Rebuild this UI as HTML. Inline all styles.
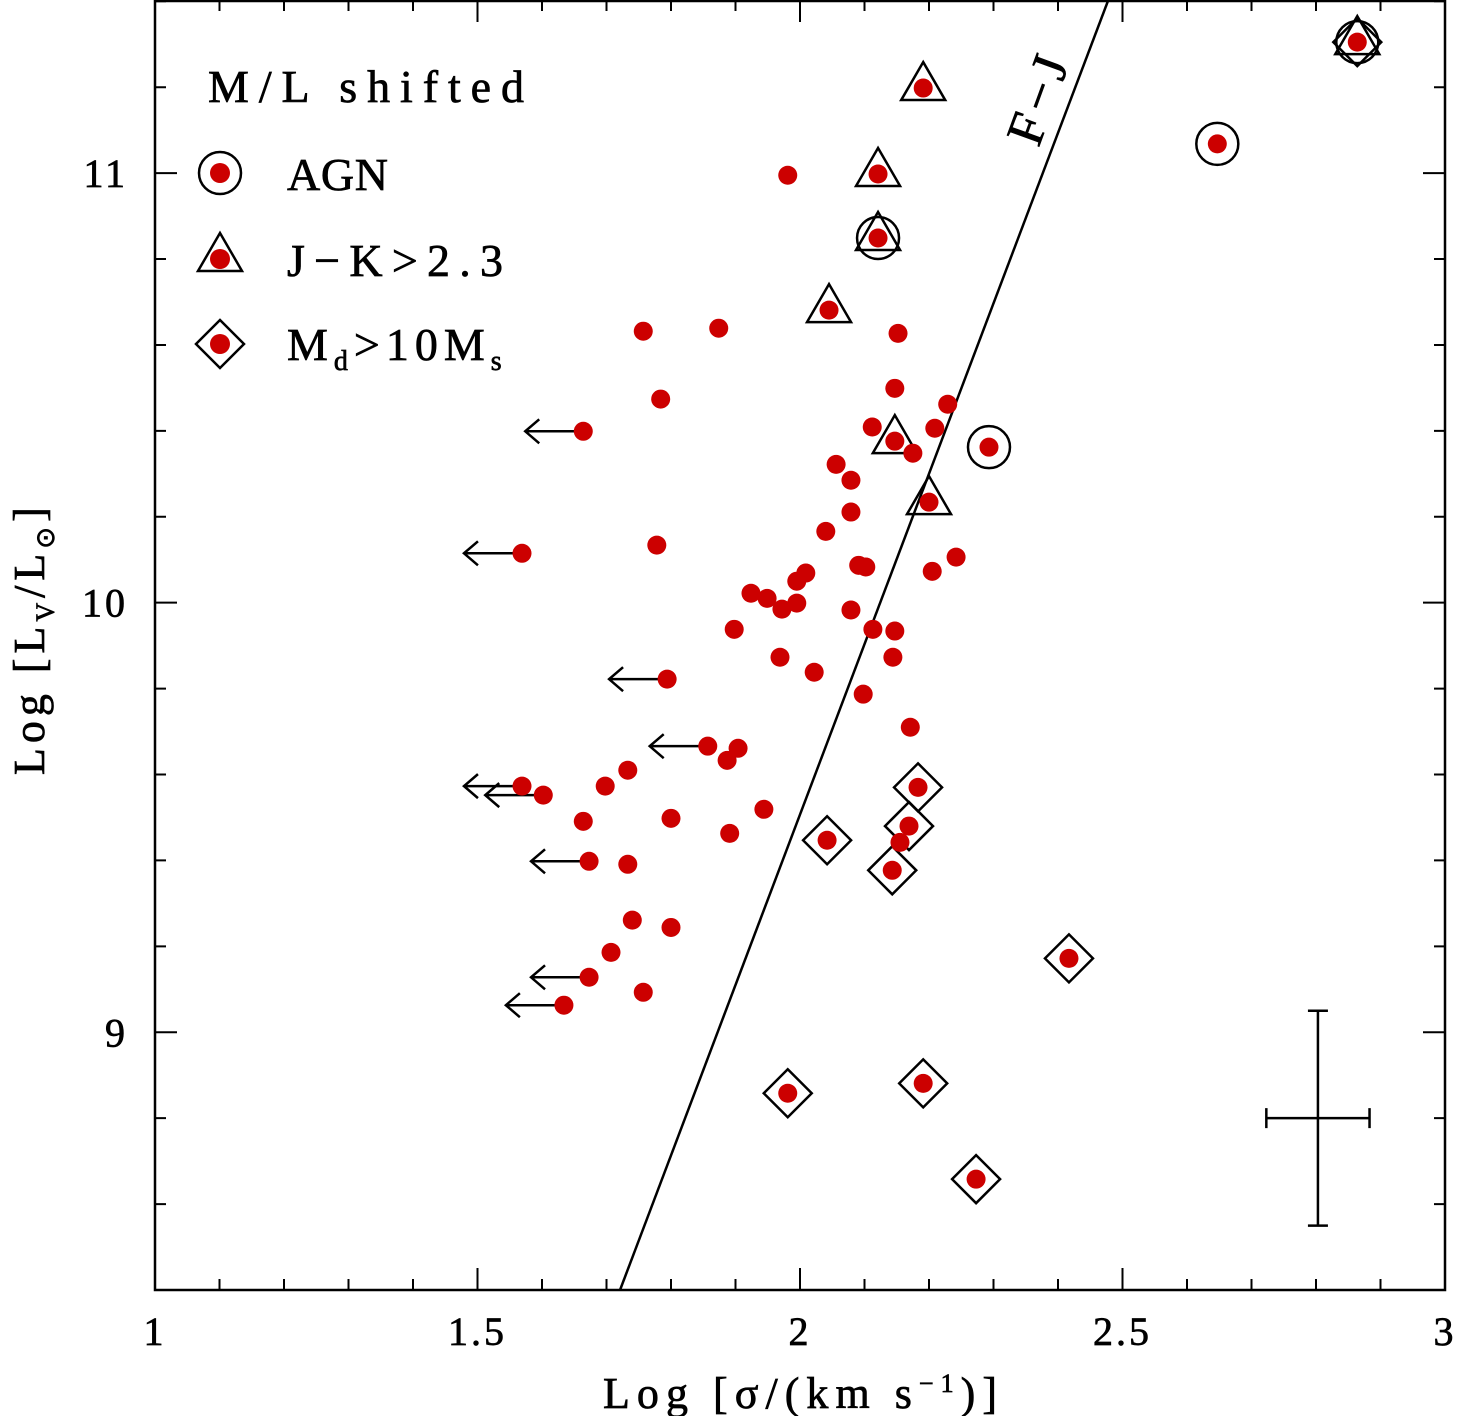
<!DOCTYPE html>
<html><head><meta charset="utf-8"><style>
html,body{margin:0;padding:0;background:#fff}
svg{display:block}
text{font-family:"Liberation Serif",serif;fill:#000;stroke:#000;stroke-width:0.7}
</style></head><body>
<svg id="chart" width="1457" height="1416" viewBox="0 0 1457 1416">
<g id="axes"></g>
<g id="marks"></g>
<g id="legend">
<text x="208" y="102" font-size="46" textLength="316" lengthAdjust="spacing">M/L shifted</text>
<circle cx="220" cy="173" r="21" fill="none" stroke="#000" stroke-width="2.5"/>
<circle cx="220" cy="173" r="10" fill="#cc0000"/>
<text x="287" y="190" font-size="46" textLength="101" lengthAdjust="spacing">AGN</text>
<polygon points="220,233 242,271 198,271" fill="none" stroke="#000" stroke-width="2.5"/>
<circle cx="220" cy="259" r="10" fill="#cc0000"/>
<text x="287" y="276" font-size="46" textLength="216" lengthAdjust="spacing">J−K&gt;2.3</text>
<polygon points="220,320 244,344 220,368 196,344" fill="none" stroke="#000" stroke-width="2.5"/>
<circle cx="220" cy="344" r="10" fill="#cc0000"/>
<text x="287" y="360" font-size="46" letter-spacing="6">M<tspan font-size="28" dy="10">d</tspan><tspan dy="-10">&gt;10M</tspan><tspan font-size="28" dy="10">s</tspan></text>
</g>
</svg>
<script>
const xs = [2.864,2.647,2.191,2.121,1.981,2.121,2.045,1.757,1.874,2.152,1.784,2.147,1.664,2.229,2.112,2.209,2.147,2.175,2.293,2.056,2.079,2.200,2.079,2.040,1.569,1.778,2.242,2.091,2.102,2.205,2.009,1.995,1.924,1.949,1.995,1.972,2.079,1.898,2.113,2.147,1.969,2.144,2.022,1.794,2.098,2.171,1.857,1.904,1.887,1.733,1.698,1.569,1.602,2.183,1.944,1.664,1.800,2.169,1.891,2.042,2.155,1.673,1.733,2.143,1.740,1.800,1.707,2.417,1.673,1.757,1.634,2.191,1.981,2.273];
const ys = [11.305,11.068,11.198,10.998,10.995,10.849,10.681,10.632,10.639,10.627,10.474,10.499,10.399,10.462,10.409,10.406,10.376,10.348,10.362,10.322,10.285,10.234,10.211,10.166,10.115,10.134,10.106,10.087,10.083,10.073,10.069,10.050,10.022,10.010,9.999,9.985,9.983,9.938,9.938,9.934,9.873,9.873,9.838,9.822,9.787,9.710,9.666,9.661,9.633,9.610,9.573,9.573,9.552,9.570,9.519,9.491,9.498,9.480,9.463,9.447,9.442,9.398,9.391,9.377,9.261,9.244,9.186,9.172,9.128,9.093,9.063,8.881,8.858,8.658];
const agnIdx = [0,1,5,18];
const triIdx = [0,2,3,5,6,16,21];
const diaIdx = [0,53,57,59,63,67,71,72,73];
const limIdx = [12,24,43,46,51,52,61,68,70];
const xTicks = [1,1.5,2,2.5,3];
const xTickLabels = ["1","1.5","2","2.5","3"];
const yTicks = [9,10,11];
const yTickLabels = ["9","10","11"];
const fjLine = [[1.721,8.4],[2.478,11.403]];
const errBar = {x:2.803, y:8.8, dx:0.08, dy:0.25};

const X0=155,X1=1445,Y0=0,Y1=1290, xmin=1,xmax=3,ymin=8.4,ymax=11.403;
const sx=v=>X0+(v-xmin)/(xmax-xmin)*(X1-X0);
const sy=v=>Y1-(v-ymin)/(ymax-ymin)*(Y1-Y0);
const NS='http://www.w3.org/2000/svg';
function mk(tag,attrs,parent){const e=document.createElementNS(NS,tag);for(const k in attrs)e.setAttribute(k,attrs[k]);parent.appendChild(e);return e;}
const axes=document.getElementById('axes'), marks=document.getElementById('marks');

let f=mk('rect',{x:X0,y:Y0+1,width:X1-X0,height:Y1-Y0-1,fill:'none',stroke:'#000','stroke-width':2.5},axes);


for(let i=0;i<=20;i++){const v=1+i*0.1, px=sx(v), L=(i%5==0)?22:11;
 let t=mk('path',{d:`M${px},${Y1}V${Y1-L}M${px},${Y0}V${Y0+L}`,stroke:'#000','stroke-width':2},axes);
 
 }
for(let v=8.4;v<=11.41;v+=0.2){const py=sy(v), maj=Math.abs(v-Math.round(v))<0.01, L=maj?22:11;
 let t=mk('path',{d:`M${X0},${py}H${X0+L}M${X1},${py}H${X1-L}`,stroke:'#000','stroke-width':2},axes);
 
 }
xTicks.forEach((v,i)=>{let t=mk('text',{x:sx(v),y:1345,'font-size':40,'text-anchor':'middle','letter-spacing':3},axes);t.textContent=xTickLabels[i];
 
 });
yTicks.forEach((v,i)=>{let t=mk('text',{x:128,y:sy(v)+14,'font-size':40,'text-anchor':'end','letter-spacing':3},axes);t.textContent=yTickLabels[i];
 
 });
let xl=mk('text',{x:603,y:1408,'font-size':44,textLength:394,lengthAdjust:'spacing'},axes);
xl.innerHTML='Log [σ/(km s<tspan font-size="26" dy="-16">−1</tspan><tspan dy="16">)]</tspan>';


let yl=mk('text',{x:0,y:0,'font-size':44,'letter-spacing':5,transform:'translate(44,775) rotate(-90)'},axes);
yl.innerHTML='Log [L<tspan font-size="26" dy="10">V</tspan><tspan dy="-10">/L</tspan><tspan font-size="26" dy="10">⊙</tspan><tspan dy="-10">]</tspan>';



let fj=mk('line',{x1:sx(fjLine[0][0]),y1:sy(fjLine[0][1]),x2:sx(fjLine[1][0]),y2:sy(fjLine[1][1]),stroke:'#000','stroke-width':2.5},marks);


let fjt=mk('text',{x:0,y:0,'font-size':52,'text-anchor':'middle','letter-spacing':6,transform:'translate(1055,103) rotate(-70)'},marks);
fjt.textContent='F−J';



let ex=sx(errBar.x), ey=sy(errBar.y);
let eb=mk('path',{d:`M${sx(errBar.x-errBar.dx)},${ey}H${sx(errBar.x+errBar.dx)}M${ex},${sy(errBar.y+errBar.dy)}V${sy(errBar.y-errBar.dy)}M${sx(errBar.x-errBar.dx)},${ey-10}v20M${sx(errBar.x+errBar.dx)},${ey-10}v20M${ex-10},${sy(errBar.y+errBar.dy)}h20M${ex-10},${sy(errBar.y-errBar.dy)}h20`,stroke:'#000','stroke-width':2.5,fill:'none'},marks);



limIdx.forEach(i=>{const px=sx(xs[i]),py=sy(ys[i]),tip=sx(xs[i]-0.09);
 let a=mk('path',{d:`M${px},${py}H${tip}M${tip+14},${py-12}L${tip},${py}L${tip+14},${py+12}`,stroke:'#000','stroke-width':2.5,fill:'none'},marks);
 
 });
agnIdx.forEach(i=>{let c=mk('circle',{cx:sx(xs[i]),cy:sy(ys[i]),r:21,fill:'none',stroke:'#000','stroke-width':2.5},marks);
 
 });
triIdx.forEach(i=>{const px=sx(xs[i]),py=sy(ys[i]);
 let t=mk('polygon',{points:`${px},${py-26} ${px+22},${py+12} ${px-22},${py+12}`,fill:'none',stroke:'#000','stroke-width':2.5},marks);
 
 });
diaIdx.forEach(i=>{const px=sx(xs[i]),py=sy(ys[i]);
 let d=mk('polygon',{points:`${px},${py-24} ${px+24},${py} ${px},${py+24} ${px-24},${py}`,fill:'none',stroke:'#000','stroke-width':2.5},marks);
 
 });
xs.forEach((v,i)=>{let c=mk('circle',{cx:sx(v),cy:sy(ys[i]),r:9.5,fill:'#cc0000'},marks);
 
 });
</script>
</body></html>
